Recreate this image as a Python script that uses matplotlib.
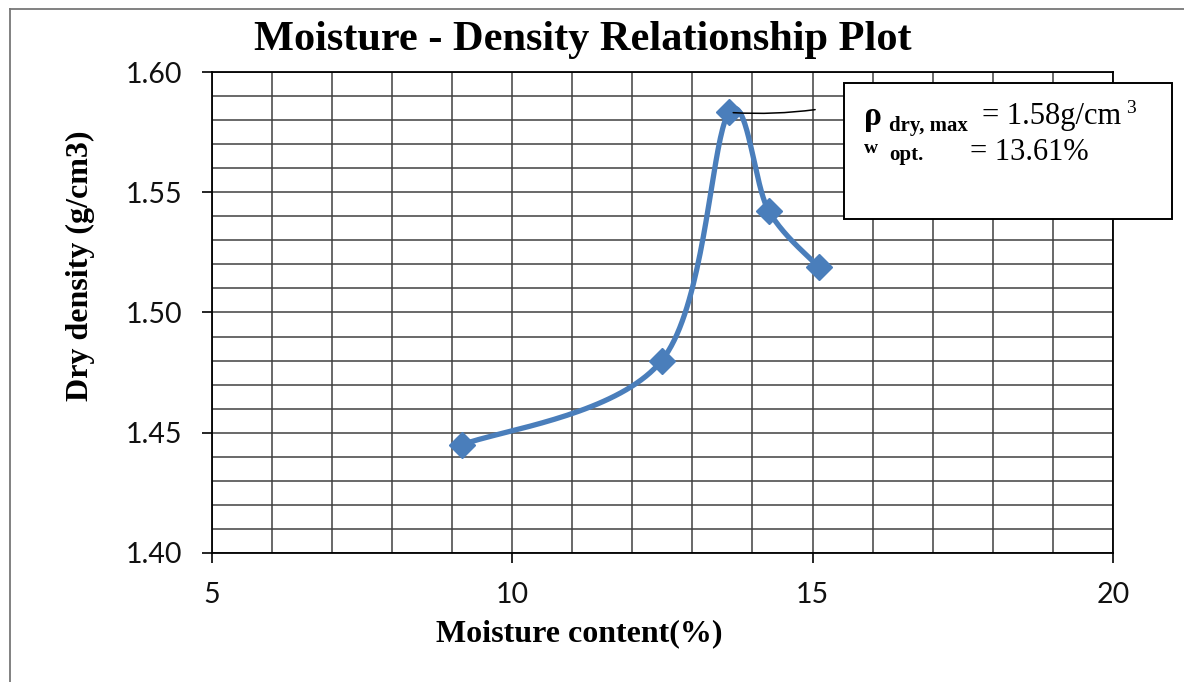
#  Moisture - density relationship (compaction curve)
import numpy as np
import matplotlib
matplotlib.use('Agg')
import matplotlib.pyplot as plt
from matplotlib.lines import Line2D
from matplotlib.patches import Rectangle
from matplotlib.ticker import MultipleLocator

#  data
moisture = [9.16, 12.49, 13.61, 14.27, 15.10]      # %
dry_density = [1.4448, 1.480, 1.5833, 1.5423, 1.519]  # g/cm3
rho_max = 1.58
w_opt = 13.61
x_ticks = [5, 10, 15, 20]
y_ticks = [1.40, 1.45, 1.50, 1.55, 1.60]

BLUE = '#4a7ebb'
SERIF = 'Liberation Serif'

fig = plt.figure(figsize=(11.84, 6.82), dpi=100)
ax = fig.add_axes([0.1788, 0.1896, 0.7612, 0.7044])
ax.set_xlim(5, 20)
ax.set_ylim(1.40, 1.60)

#  grid: every 1 % and every 0.01 g/cm3
ax.xaxis.set_major_locator(MultipleLocator(5))
ax.xaxis.set_minor_locator(MultipleLocator(1))
ax.yaxis.set_major_locator(MultipleLocator(0.05))
ax.yaxis.set_minor_locator(MultipleLocator(0.01))
ax.grid(which='both', color='#404040', lw=1.1, zorder=0)
ax.tick_params(which='minor', length=0)
ax.tick_params(which='major', direction='out', length=7, width=1.2, pad=14)
ax.set_xticks(x_ticks)
ax.set_yticks(y_ticks)
ax.set_xticklabels([str(t) for t in x_ticks])
ax.set_yticklabels(['%.2f' % t for t in y_ticks])
for lab in ax.get_xticklabels() + ax.get_yticklabels():
    lab.set_fontfamily('Lato')
    lab.set_fontweight('normal')
    lab.set_fontsize(20.5)
    lab.set_color('#111111')
for sp in ax.spines.values():
    sp.set_linewidth(1.3)

#  smoothed line like a spreadsheet "smooth line" (bezier, tension 1/6),
#  built in display space so the curve shape follows the screen aspect
pts = ax.transData.transform(np.column_stack([moisture, dry_density]))
n = len(pts)
curve = []
tt = np.linspace(0, 1, 40)
for i in range(n - 1):
    p0 = pts[max(i - 1, 0)]
    p1 = pts[i]
    p2 = pts[i + 1]
    p3 = pts[min(i + 2, n - 1)]
    c1 = p1 + (p2 - p0) / 6.0
    c2 = p2 - (p3 - p1) / 6.0
    seg = ((1 - tt) ** 3)[:, None] * p1 + (3 * (1 - tt) ** 2 * tt)[:, None] * c1 \
        + (3 * (1 - tt) * tt ** 2)[:, None] * c2 + (tt ** 3)[:, None] * p2
    curve.append(seg)
curve = ax.transData.inverted().transform(np.vstack(curve))
ax.plot(curve[:, 0], curve[:, 1], color=BLUE, lw=3.8, zorder=3,
        solid_capstyle='round')
ax.plot(moisture, dry_density, linestyle='none', marker='D', markersize=13,
        color=BLUE, zorder=4)

#  leader line from the peak to the label box
ax.annotate('', xy=(w_opt, max(dry_density)), xytext=(62, 2),
            textcoords='offset points', annotation_clip=False,
            arrowprops=dict(arrowstyle='-', color='black', lw=1.1,
                            shrinkA=0, shrinkB=3,
                            connectionstyle='arc3,rad=-0.05'), zorder=5)

#  titles
fig.text(0.4924, 0.941, 'Moisture - Density Relationship Plot', ha='center',
         va='center', family=SERIF, weight='bold', fontsize=30.5)
fig.text(0.489, 0.071, 'Moisture content(%)', ha='center', va='center',
         family=SERIF, weight='bold', fontsize=23)
fig.text(0.068, 0.61, 'Dry density (g/cm3)', ha='center', va='center',
         rotation=90, family=SERIF, weight='bold', fontsize=23)

#  label box
fig.patches.append(Rectangle((0.7128, 0.679), 0.277, 0.1994,
                             transform=fig.transFigure, facecolor='white',
                             edgecolor='black', lw=1.4, zorder=5))
fig.text(0.7297, 0.8167, '\u03c1', family=SERIF, weight='bold', fontsize=24,
         va='baseline', zorder=6)
fig.text(0.7508, 0.8079, 'dry, max', family=SERIF, weight='bold', fontsize=15,
         va='baseline', zorder=6)
fig.text(0.8294, 0.8182, '= %.2fg/cm' % rho_max, family=SERIF, fontsize=22,
         va='baseline', zorder=6)
fig.text(0.9510, 0.8343, '3', family=SERIF, fontsize=14, va='baseline', zorder=6)
fig.text(0.7297, 0.7757, 'w', family=SERIF, weight='bold', fontsize=14,
         va='baseline', zorder=6)
fig.text(0.7508, 0.7654, 'opt.', family=SERIF, weight='bold', fontsize=15,
         va='baseline', zorder=6)
fig.text(0.8193, 0.7654, '= %.2f%%' % w_opt, family=SERIF, fontsize=22,
         va='baseline', zorder=6)

#  chart frame (left and top edges visible)
fig.lines.append(Line2D([0.00845, 0.00845], [0, 0.9868], transform=fig.transFigure,
                        color='#777777', lw=1.3))
fig.lines.append(Line2D([0.00845, 1], [0.9868, 0.9868], transform=fig.transFigure,
                        color='#777777', lw=1.3))

fig.savefig('out.png', dpi=100)
